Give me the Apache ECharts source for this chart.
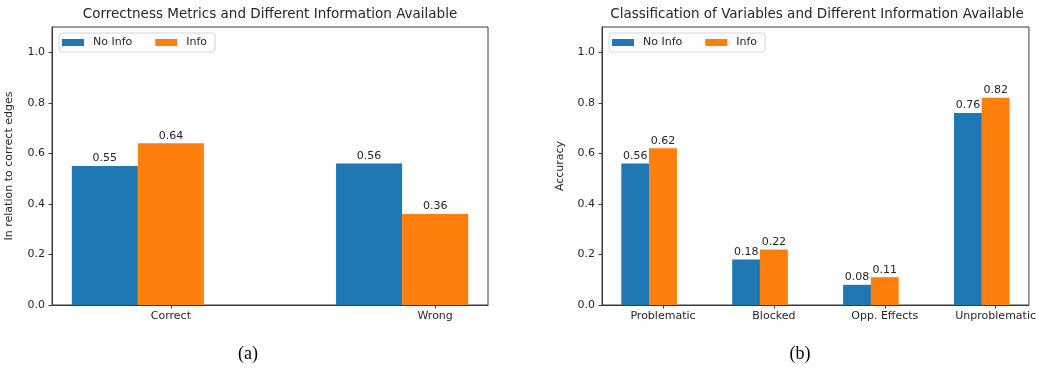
<!DOCTYPE html>
<html>
<head>
<meta charset="utf-8">
<script src="https://cdn.jsdelivr.net/npm/echarts@6/dist/echarts.min.js"></script>
<style>
  html, body { margin: 0; padding: 0; background: #fff; }
  #chart { width: 1039px; height: 372px; }
</style>
</head>
<body>
<div id="chart"></div>
<script>
// Panel (a): correctness metrics
const correctnessCategories = ['Correct', 'Wrong'];
const correctnessNoInfo = [0.55, 0.56];
const correctnessInfo = [0.64, 0.36];

// Panel (b): classification of variables
const classCategories = ['Problematic', 'Blocked', 'Opp. Effects', 'Unproblematic'];
const classNoInfo = [0.56, 0.18, 0.08, 0.76];
const classInfo = [0.62, 0.22, 0.11, 0.82];

const yTickValues = [0, 0.2, 0.4, 0.6, 0.8, 1.0];
const seriesNames = ['No Info', 'Info'];

const FONT = 'DejaVu Sans';
const TEXT = '#262626';
const AXIS = '#3a3a3a';
const BLUE = '#1f77b4';
const ORANGE = '#ff7f0e';
const BAR_W = 0.25;   // bar width in category units
const FS = 11;        // tick / label font size

const panels = [
  { cats: correctnessCategories, a: correctnessNoInfo, b: correctnessInfo,
    grid: { left: 52, top: 27, width: 436, height: 278 },
    title: 'Correctness Metrics and Different Information Available',
    yName: 'In relation to correct edges', nameGap: 37, caption: '(a)', captionX: 248,
    legendLeft: 59 },
  { cats: classCategories, a: classNoInfo, b: classInfo,
    grid: { left: 602, top: 27, width: 430, height: 278 },
    title: 'Classification of Variables and Different Information Available',
    yName: 'Accuracy', nameGap: 36, caption: '(b)', captionX: 800,
    legendLeft: 609 }
];

const grids = [], xAxes = [], yAxes = [], series = [], titles = [], legends = [];

panels.forEach((p, k) => {
  const n = p.cats.length;
  const lo = -BAR_W - BAR_W / 2;
  const hi = (n - 1) + BAR_W / 2;
  const pad = 0.05 * (hi - lo);
  const xMin = lo - pad, xMax = hi + pad;
  const barPx = BAR_W * p.grid.width / (xMax - xMin);
  const catTicks = p.cats.map((_, i) => i);

  grids.push(Object.assign({ show: true, borderColor: AXIS, borderWidth: 1, backgroundColor: '#fff' }, p.grid));

  xAxes.push({
    type: 'value', gridIndex: k, min: xMin, max: xMax,
    axisLine: { show: true, onZero: false, lineStyle: { color: AXIS, width: 1 } },
    axisTick: { show: true, customValues: catTicks, length: 3.5, lineStyle: { color: AXIS } },
    axisLabel: {
      customValues: catTicks, margin: 6,
      fontFamily: FONT, fontSize: FS, color: TEXT,
      formatter: v => p.cats[Math.round(v)] || ''
    },
    splitLine: { show: false }
  });

  yAxes.push({
    type: 'value', gridIndex: k, min: 0, max: 1.1,
    name: p.yName, nameLocation: 'middle', nameRotate: 90, nameGap: p.nameGap,
    nameTextStyle: { fontFamily: FONT, fontSize: FS, color: TEXT },
    axisLine: { show: true, onZero: false, lineStyle: { color: AXIS, width: 1 } },
    axisTick: { show: true, customValues: yTickValues, length: 3.5, lineStyle: { color: AXIS } },
    axisLabel: {
      customValues: yTickValues, margin: 7,
      fontFamily: FONT, fontSize: FS, color: TEXT,
      formatter: v => v.toFixed(1)
    },
    splitLine: { show: false }
  });

  const label = {
    show: true, position: 'top', distance: 2,
    fontFamily: FONT, fontSize: FS, color: TEXT,
    formatter: d => d.value[1].toFixed(2)
  };

  series.push({
    type: 'bar', name: seriesNames[0], xAxisIndex: k, yAxisIndex: k,
    barWidth: barPx, barGap: '-100%',
    itemStyle: { color: BLUE },
    label: label,
    data: p.a.map((v, i) => [i - BAR_W, v])
  });
  series.push({
    type: 'bar', name: seriesNames[1], xAxisIndex: k, yAxisIndex: k,
    barWidth: barPx, barGap: '-100%',
    itemStyle: { color: ORANGE },
    label: label,
    data: p.b.map((v, i) => [i, v])
  });

  titles.push({
    text: p.title, left: p.grid.left + p.grid.width / 2, top: 7, textAlign: 'center', padding: 0,
    textStyle: { fontFamily: FONT, fontSize: 13.5, fontWeight: 'normal', color: TEXT }
  });
  titles.push({
    text: p.caption, left: p.captionX, top: 345, textAlign: 'center', padding: 0,
    textStyle: { fontFamily: 'Liberation Serif', fontSize: 18, fontWeight: 'normal', color: '#000' }
  });

  legends.push({
    data: seriesNames, left: p.legendLeft, top: 33, orient: 'horizontal',
    icon: 'rect', itemWidth: 22, itemHeight: 7, itemGap: 23,
    backgroundColor: 'rgba(255,255,255,0.8)', borderColor: '#d6d6d6', borderWidth: 1, borderRadius: 3,
    padding: [4, 8, 4, 3],
    selectedMode: false,
    textStyle: { fontFamily: FONT, fontSize: FS, color: TEXT, padding: [0, 0, 0, 4] }
  });
});

const chart = echarts.init(document.getElementById('chart'), null, { renderer: 'canvas' });
chart.setOption({
  animation: false,
  backgroundColor: '#fff',
  title: titles,
  legend: legends,
  grid: grids,
  xAxis: xAxes,
  yAxis: yAxes,
  series: series
});
</script>
</body>
</html>
